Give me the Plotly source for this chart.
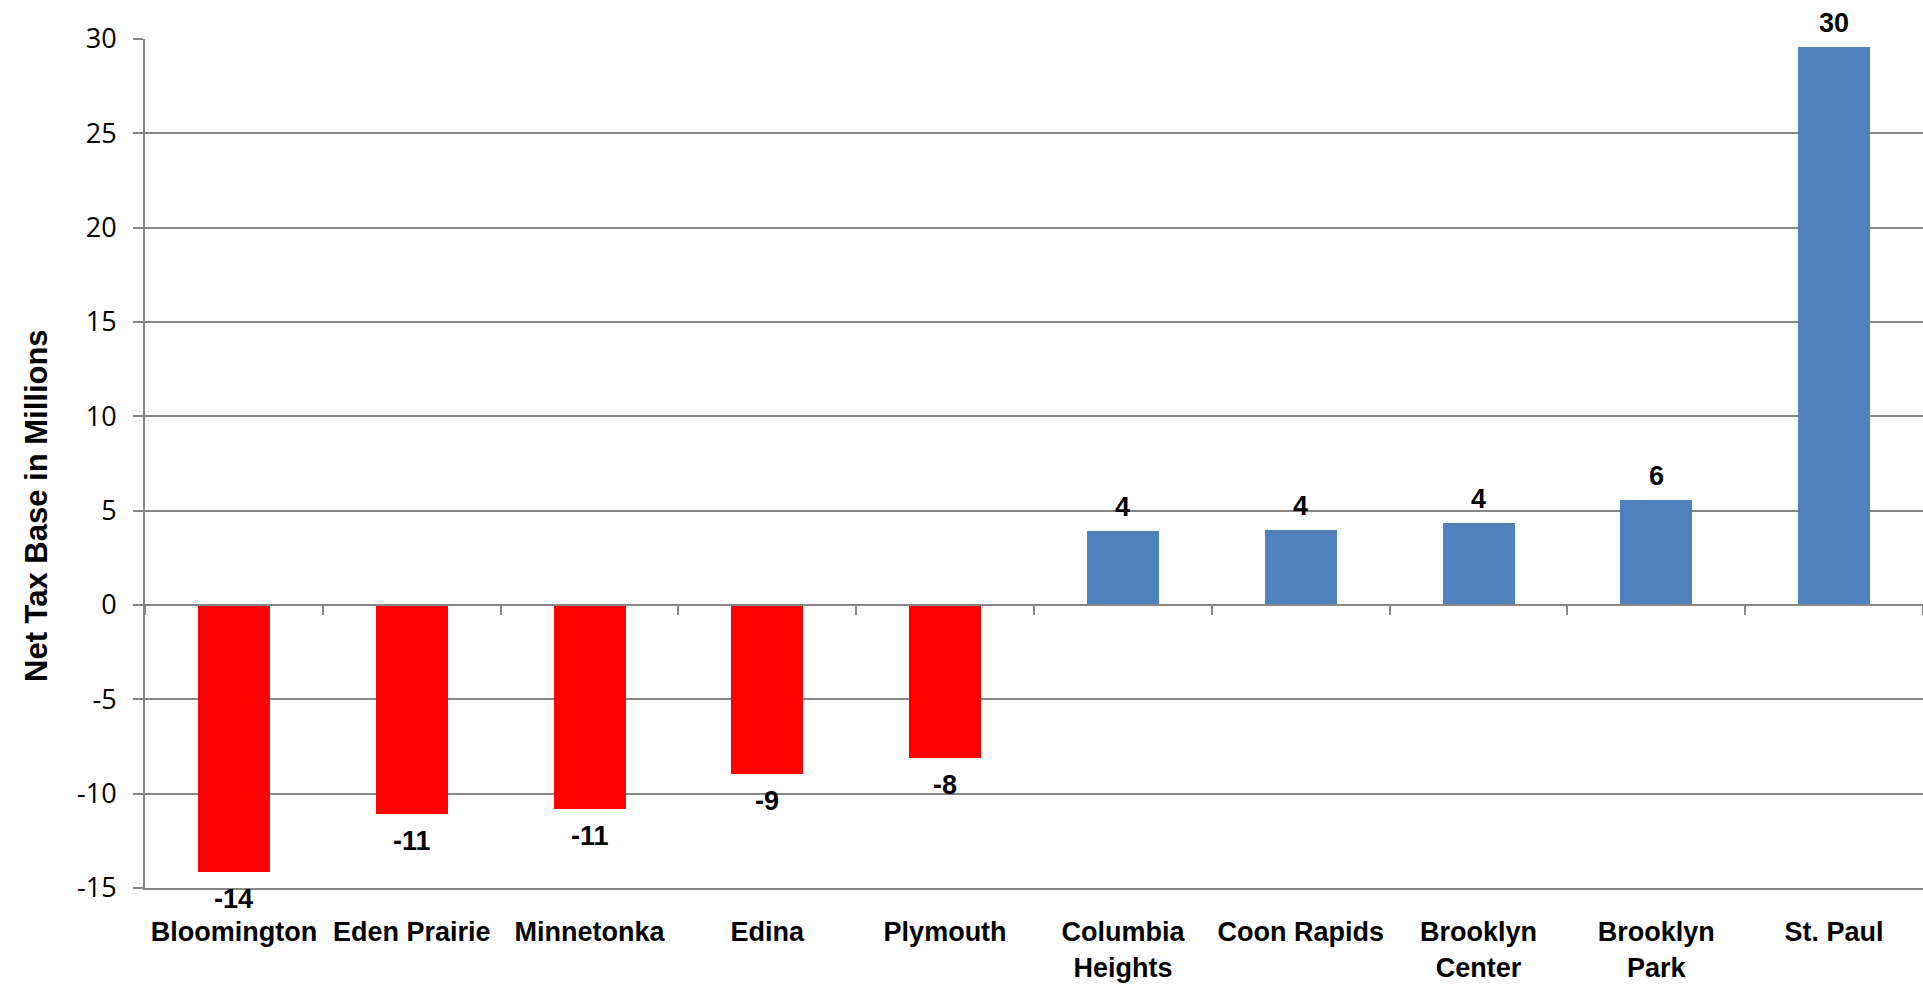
import plotly.graph_objects as go

# Net tax base change by city, in millions of dollars
cities = ["Bloomington", "Eden Prairie", "Minnetonka", "Edina", "Plymouth",
          "Columbia Heights", "Coon Rapids", "Brooklyn Center", "Brooklyn Park", "St. Paul"]
city_labels = ["Bloomington", "Eden Prairie", "Minnetonka", "Edina", "Plymouth",
               "Columbia<br>Heights", "Coon Rapids", "Brooklyn<br>Center", "Brooklyn<br>Park", "St. Paul"]
net_tax_base = [-14.13, -11.1, -10.8, -8.95, -8.1, 3.92, 3.97, 4.35, 5.55, 29.57]
y_ticks = [-15, -10, -5, 0, 5, 10, 15, 20, 25, 30]
y_tick_labels = ["-15", "-10", "-5", "0", "5", "10", "15", "20", "25", "30"]

RED = "#FF0000"
BLUE = "#4F81BD"
GRID = "#868686"
LABEL_FONT = dict(family="Liberation Sans, Arial, sans-serif", size=27, color="#000000")

bar_colors = [RED if v < 0 else BLUE for v in net_tax_base]

fig = go.Figure()
fig.add_trace(go.Bar(
    x=cities,
    y=net_tax_base,
    marker=dict(color=bar_colors, line=dict(width=0)),
    width=0.405,
    hoverinfo="x+y",
    showlegend=False,
))

# invisible companion trace that carries the category axis drawn along y = 0
fig.add_trace(go.Scatter(
    x=cities,
    y=net_tax_base,
    xaxis="x2",
    mode="markers",
    marker=dict(opacity=0),
    hoverinfo="skip",
    showlegend=False,
))

# rounded value labels just beyond the end of each bar
for city, v in zip(cities, net_tax_base):
    fig.add_annotation(
        x=city, y=v, xref="x", yref="y",
        text=f"<b>{v:.0f}</b>",
        showarrow=False,
        font=LABEL_FONT,
        yanchor="bottom" if v >= 0 else "top",
        yshift=7 if v >= 0 else -10,
    )

# vertical axis title, sitting a little below the middle of the plot
fig.add_annotation(
    x=0, y=0.45, xref="paper", yref="paper",
    text="<b>Net Tax Base in Millions</b>",
    textangle=-90,
    showarrow=False,
    xanchor="center", yanchor="middle",
    xshift=-108,
    font=dict(family="Liberation Sans, Arial, sans-serif", size=31, color="#000000"),
)

y_min, y_max = y_ticks[0], y_ticks[-1]

fig.update_layout(
    width=1923,
    height=988,
    margin=dict(l=145, r=0, t=39, b=100),
    paper_bgcolor="#FFFFFF",
    plot_bgcolor="#FFFFFF",
    bargap=0,
    xaxis=dict(
        type="category",
        categoryorder="array",
        categoryarray=cities,
        tickvals=cities,
        ticktext=[f"<b>{t}</b>" for t in city_labels],
        range=[-0.5, len(cities) - 0.5],
        tickfont=LABEL_FONT,
        ticks="",
        ticklabelstandoff=19,
        showline=True,
        linecolor=GRID,
        linewidth=2,
        showgrid=False,
        zeroline=False,
    ),
    xaxis2=dict(
        type="category",
        categoryorder="array",
        categoryarray=cities,
        range=[-0.5, len(cities) - 0.5],
        overlaying="x",
        anchor="free",
        position=(0 - y_min) / (y_max - y_min),
        showticklabels=False,
        ticks="outside",
        tickson="boundaries",
        ticklen=9,
        tickwidth=2,
        tickcolor=GRID,
        showline=True,
        linecolor=GRID,
        linewidth=2,
        showgrid=False,
        zeroline=False,
    ),
    yaxis=dict(
        range=[y_min, y_max],
        tickvals=y_ticks,
        ticktext=y_tick_labels,
        tickfont=dict(family="Open Sans, DejaVu Sans, sans-serif", size=27, color="#000000"),
        ticks="outside",
        ticklen=10,
        tickwidth=2,
        tickcolor=GRID,
        ticklabelstandoff=11,
        showline=True,
        linecolor=GRID,
        linewidth=2,
        showgrid=True,
        gridcolor=GRID,
        gridwidth=2,
        zeroline=False,
    ),
)

fig.write_html("out.html")
